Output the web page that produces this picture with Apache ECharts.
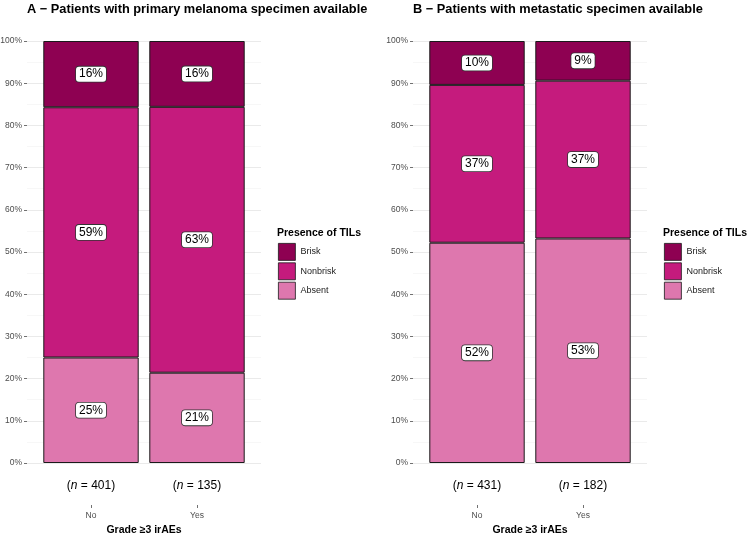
<!DOCTYPE html>
<html>
<head>
<meta charset="utf-8">
<script src="https://cdn.jsdelivr.net/npm/echarts@6/dist/echarts.min.js"></script>
<style>html,body{margin:0;padding:0;background:#fff}#c{width:750px;height:534px}</style>
</head>
<body>
<div id="c"></div>
<script>
// ---- data ----
var categories = ['No', 'Yes'];
var nA = [401, 135];
var nB = [431, 182];
var absentA = [25.0, 21.4];
var nonbriskA = [59.3, 63.0];
var briskA = [15.7, 15.6];
var absentB = [52.2, 53.2];
var nonbriskB = [37.4, 37.4];
var briskB = [10.4, 9.4];
var levels = ['Absent', 'Nonbrisk', 'Brisk'];
var legendOrder = ['Brisk', 'Nonbrisk', 'Absent'];
var titleA = 'A \u2212 Patients with primary melanoma specimen available';
var titleB = 'B \u2212 Patients with metastatic specimen available';
var xTitle = 'Grade \u22653 irAEs';
var legendTitle = 'Presence of TILs';

// ---- styles ----
var FONT = '"Liberation Sans", Arial, Helvetica, sans-serif';
var colors = {Absent: '#DE77AE', Nonbrisk: '#C51B7D', Brisk: '#8E0152'};

var chart = echarts.init(document.getElementById('c'), null, {renderer: 'canvas'});

function bgGrid(left) {
  return {left: left, top: 41, width: 234, height: 422, containLabel: false, outerBoundsMode: 'none'};
}
function barGrid(left) {
  return {left: left + 11, top: 41, width: 212, height: 422, containLabel: false, outerBoundsMode: 'none'};
}
function yAxisBg(gi) {
  return {
    type: 'value', gridIndex: gi, min: 0, max: 100, interval: 10,
    axisLine: {show: false},
    axisTick: {show: true, length: 3, lineStyle: {color: '#4d4d4d', width: 0.8}},
    axisLabel: {formatter: '{value}%', fontSize: 8.5, color: '#4d4d4d', fontFamily: FONT, margin: 5},
    splitLine: {show: true, lineStyle: {color: '#e8e8e8', width: 0.9}},
    minorTick: {show: false, splitNumber: 2},
    minorSplitLine: {show: true, lineStyle: {color: '#f2f2f2', width: 0.6}}
  };
}
function yAxisBar(gi) {
  return {type: 'value', gridIndex: gi, min: 0, max: 100, show: false, splitLine: {show: false}};
}
function xAxisBg(gi) {
  return {type: 'value', gridIndex: gi, min: 0, max: 1, show: false, splitLine: {show: false}};
}
function xAxisN(gi, ns) {
  return {
    type: 'category', gridIndex: gi, data: categories, position: 'bottom',
    axisLine: {show: false}, axisTick: {show: false}, splitLine: {show: false},
    axisLabel: {
      interval: 0, margin: 17,
      formatter: function (v, idx) { return '{p|(}{i|n}{p| = ' + ns[idx] + ')}'; },
      rich: {
        p: {fontSize: 12, color: '#000', fontFamily: FONT},
        i: {fontSize: 12, color: '#000', fontStyle: 'italic', fontFamily: FONT}
      }
    }
  };
}
function xAxisCat(gi) {
  return {
    type: 'category', gridIndex: gi, data: categories, position: 'bottom', offset: 42,
    axisLine: {show: false}, splitLine: {show: false},
    axisTick: {show: true, alignWithLabel: true, length: 3, lineStyle: {color: '#4d4d4d', width: 0.8}},
    axisLabel: {interval: 0, margin: 6, fontSize: 8.5, color: '#4d4d4d', fontFamily: FONT},
    name: xTitle, nameLocation: 'middle', nameGap: 15,
    nameTextStyle: {fontSize: 10.5, fontWeight: 'bold', color: '#000', fontFamily: FONT}
  };
}

function makeSeries(xi, yi, stackId, valsByLevel) {
  return levels.map(function (lv) {
    return {
      name: lv, type: 'bar', stack: stackId, xAxisIndex: xi, yAxisIndex: yi,
      barWidth: '90%',
      data: valsByLevel[lv].slice(),
      itemStyle: {color: colors[lv], borderColor: '#1a1a1a', borderWidth: 1},
      label: {
        show: true, position: 'inside', color: '#000', fontSize: 12, fontFamily: FONT,
        backgroundColor: '#fff', borderColor: '#333', borderWidth: 0.8, borderRadius: 3,
        padding: [1, 3, 0, 3], lineHeight: 14,
        formatter: function (p) { return Math.round(p.value) + '%'; }
      },
      emphasis: {disabled: true},
      animation: false
    };
  });
}

function legendDef(left) {
  return {
    orient: 'vertical', left: left, top: 243, padding: 0, itemWidth: 17, itemHeight: 17, itemGap: 1.6,
    icon: 'rect', data: legendOrder, selectedMode: false,
    textStyle: {fontSize: 9, color: '#1a1a1a', fontFamily: FONT},
    itemStyle: {borderColor: '#1a1a1a', borderWidth: 0.8}
  };
}

var option = {
  animation: false,
  backgroundColor: '#fff',
  textStyle: {fontFamily: FONT},
  title: [
    {text: titleA, left: 27, top: 3, padding: 0, textStyle: {fontSize: 12.8, fontWeight: 'bold', color: '#000', fontFamily: FONT}},
    {text: titleB, left: 413, top: 3, padding: 0, textStyle: {fontSize: 12.8, fontWeight: 'bold', color: '#000', fontFamily: FONT}},
    {text: legendTitle, left: 277, top: 228, padding: 0, textStyle: {fontSize: 10.5, fontWeight: 'bold', color: '#000', fontFamily: FONT}},
    {text: legendTitle, left: 663, top: 228, padding: 0, textStyle: {fontSize: 10.5, fontWeight: 'bold', color: '#000', fontFamily: FONT}}
  ],
  legend: [legendDef(278), legendDef(664)],
  grid: [bgGrid(27), barGrid(27), bgGrid(413), barGrid(413)],
  xAxis: [xAxisBg(0), xAxisN(1, nA), xAxisCat(1), xAxisBg(2), xAxisN(3, nB), xAxisCat(3)],
  yAxis: [yAxisBg(0), yAxisBar(1), yAxisBg(2), yAxisBar(3)],
  series: [].concat(
    makeSeries(1, 1, 'A', {Absent: absentA, Nonbrisk: nonbriskA, Brisk: briskA}),
    makeSeries(4, 3, 'B', {Absent: absentB, Nonbrisk: nonbriskB, Brisk: briskB})
  )
};
chart.setOption(option);
</script>
</body>
</html>
